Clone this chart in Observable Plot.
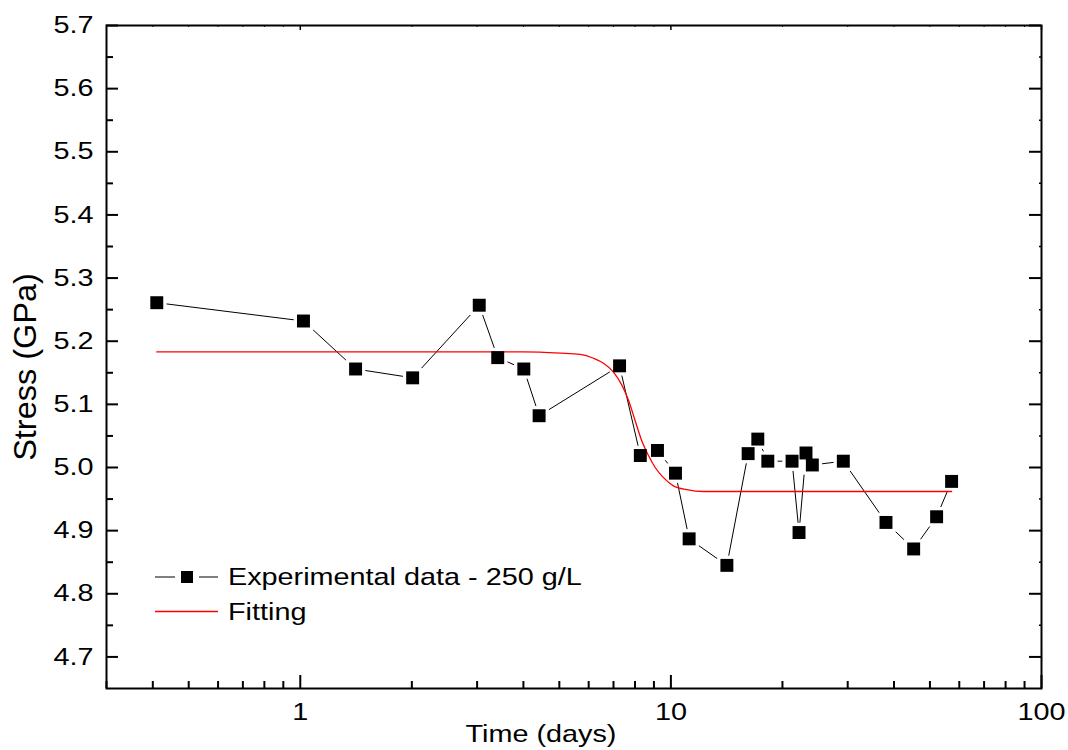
<!DOCTYPE html>
<html>
<head>
<meta charset="utf-8">
<script src="https://cdn.jsdelivr.net/npm/d3@7"></script>
<script src="https://cdn.jsdelivr.net/npm/@observablehq/plot@0.6"></script>
<style>
  html, body { margin: 0; padding: 0; background: #ffffff; }
</style>
</head>
<body>
<div id="chart"></div>
<script>
// ---- Data ----
const timeDays = [0.41, 1.02, 1.41, 2.01, 3.04, 3.41, 4.01, 4.41, 7.27, 8.27, 9.2, 10.29, 11.2, 14.16, 16.16, 17.16, 18.26, 21.23, 22.17, 23.15, 24.08, 29.19, 38.05, 45.19, 52.12, 57.2];
const stressGPa = [5.261, 5.232, 5.156, 5.142, 5.257, 5.174, 5.156, 5.082, 5.161, 5.019, 5.027, 4.991, 4.887, 4.845, 5.022, 5.045, 5.010, 5.010, 4.897, 5.023, 5.004, 5.010, 4.913, 4.871, 4.922, 4.978];

const fitTime = [0.41, 4.0, 5.03, 5.69, 6.18, 6.58, 7.0, 7.38, 7.69, 8.01, 8.35, 8.7, 9.07, 9.55, 10.16, 11.04, 12.24, 15.37, 57.2];
const fitStress = [5.183, 5.183, 5.181, 5.179, 5.173, 5.165, 5.151, 5.130, 5.106, 5.074, 5.042, 5.019, 5.000, 4.984, 4.971, 4.965, 4.962, 4.962, 4.962];

const xMajorTicks = [1, 10, 100];
const xMinorTicks = [0.3, 0.4, 0.5, 0.6, 0.7, 0.8, 0.9, 2, 3, 4, 5, 6, 7, 8, 9, 20, 30, 40, 50, 60, 70, 80, 90];
const yMajorTicks = [4.7, 4.8, 4.9, 5.0, 5.1, 5.2, 5.3, 5.4, 5.5, 5.6, 5.7];
const yMinorTicks = [4.75, 4.85, 4.95, 5.05, 5.15, 5.25, 5.35, 5.45, 5.55, 5.65];

const seriesLabel = "Experimental data - 250 g/L";
const fitLabel = "Fitting";
const xTitle = "Time (days)";
const yTitle = "Stress (GPa)";

// ---- Layout ----
const W = 1068, H = 750;
const mL = 106, mR = 27, mT = 25, mB = 62;
const pw = W - mL - mR, ph = H - mT - mB;
const font = "'Liberation Sans', Arial, Helvetica, sans-serif";

const data = timeDays.map((t, i) => ({t, s: stressGPa[i]}));
const fit = fitTime.map((t, i) => ({t, s: fitStress[i]}));

const plot = Plot.plot({
  width: W, height: H,
  marginLeft: mL, marginRight: mR, marginTop: mT, marginBottom: mB,
  style: {fontFamily: font, fontSize: "24px", background: "white", color: "black", overflow: "visible"},
  x: {type: "log", domain: [0.3, 100], axis: null},
  y: {domain: [4.65, 5.7], axis: null},
  marks: [
    Plot.line(data, {x: "t", y: "s", stroke: "black", strokeWidth: 1}),
    Plot.dot(data, {x: "t", y: "s", symbol: "square", r: 11, fill: "white", stroke: "none"}),
    Plot.line(fit, {x: "t", y: "s", stroke: "#ff0000", strokeWidth: 1.3, curve: "monotone-x"}),
    Plot.dot(data, {x: "t", y: "s", symbol: "square", r: 7.3, fill: "black", stroke: "none"}),

    // bottom ticks (inward)
    Plot.tickX(xMajorTicks, {x: d => d, insetTop: ph - 13, stroke: "black", strokeWidth: 2}),
    Plot.tickX(xMinorTicks, {x: d => d, insetTop: ph - 7, stroke: "black", strokeWidth: 2}),
    // top ticks (short)
    Plot.tickX(xMajorTicks, {x: d => d, insetBottom: ph - 5, stroke: "black", strokeWidth: 1.5}),
    Plot.tickX(xMinorTicks, {x: d => d, insetBottom: ph - 2, stroke: "black", strokeWidth: 1}),
    // left ticks (inward)
    Plot.tickY(yMajorTicks, {y: d => d, insetRight: pw - 12, stroke: "black", strokeWidth: 2}),
    Plot.tickY(yMinorTicks, {y: d => d, insetRight: pw - 7, stroke: "black", strokeWidth: 2}),
    // right ticks
    Plot.tickY(yMajorTicks, {y: d => d, insetLeft: pw - 12, stroke: "black", strokeWidth: 2}),
    Plot.tickY(yMinorTicks, {y: d => d, insetLeft: pw - 2, stroke: "black", strokeWidth: 1.5}),

    // tick labels
    Plot.text(yMajorTicks, {y: d => d, text: d => d.toFixed(1), frameAnchor: "left", textAnchor: "end", lineAnchor: "middle", dx: -13, fontSize: 24, fill: "black"}),
    Plot.text(xMajorTicks, {x: d => d, text: d => String(d), frameAnchor: "bottom", textAnchor: "middle", lineAnchor: "top", dy: 14, fontSize: 24, fill: "black"}),

    // axis titles
    Plot.text([xTitle], {text: d => d, frameAnchor: "bottom", textAnchor: "middle", lineAnchor: "top", dy: 36, dx: -33, fontSize: 24, fill: "black"}),
    Plot.text([yTitle], {text: d => d, frameAnchor: "left", textAnchor: "middle", rotate: -90, lineAnchor: "middle", dx: -80, dy: 10, fontSize: 26, fill: "black"}),

    Plot.frame({stroke: "black", strokeWidth: 2})
  ]
});

document.getElementById("chart").appendChild(plot);

// Legend (inside plot, lower left)
const svg = d3.select(plot);
const lg = svg.append("g").attr("font-family", font).attr("font-size", 24).attr("fill", "black").attr("text-anchor", "start");
lg.append("line").attr("x1", 155).attr("x2", 175).attr("y1", 577).attr("y2", 577).attr("stroke", "black").attr("stroke-width", 1);
lg.append("rect").attr("x", 181).attr("y", 571).attr("width", 12).attr("height", 12).attr("fill", "black");
lg.append("line").attr("x1", 199).attr("x2", 218).attr("y1", 577).attr("y2", 577).attr("stroke", "black").attr("stroke-width", 1);
lg.append("text").attr("transform", "translate(228,576)").attr("dy", "0.36em").attr("text-anchor", "start").text(seriesLabel);
lg.append("line").attr("x1", 155).attr("x2", 218).attr("y1", 611.5).attr("y2", 611.5).attr("stroke", "#ff0000").attr("stroke-width", 1.3);
lg.append("text").attr("transform", "translate(228,611)").attr("dy", "0.36em").attr("text-anchor", "start").text(fitLabel);

// Text in the reference is horizontally stretched: emulate it by scaling about each text's anchor.
function stretch(t, sx, sy) {
  const tr = t.getAttribute("transform") || "";
  t.setAttribute("transform", `${tr} scale(${sx},${sy})`);
}
plot.querySelectorAll("text").forEach(t => {
  if (t.textContent === yTitle) stretch(t, 1.25, 1.2);
  else stretch(t, 1.2, 1);
});
</script>
</body>
</html>
